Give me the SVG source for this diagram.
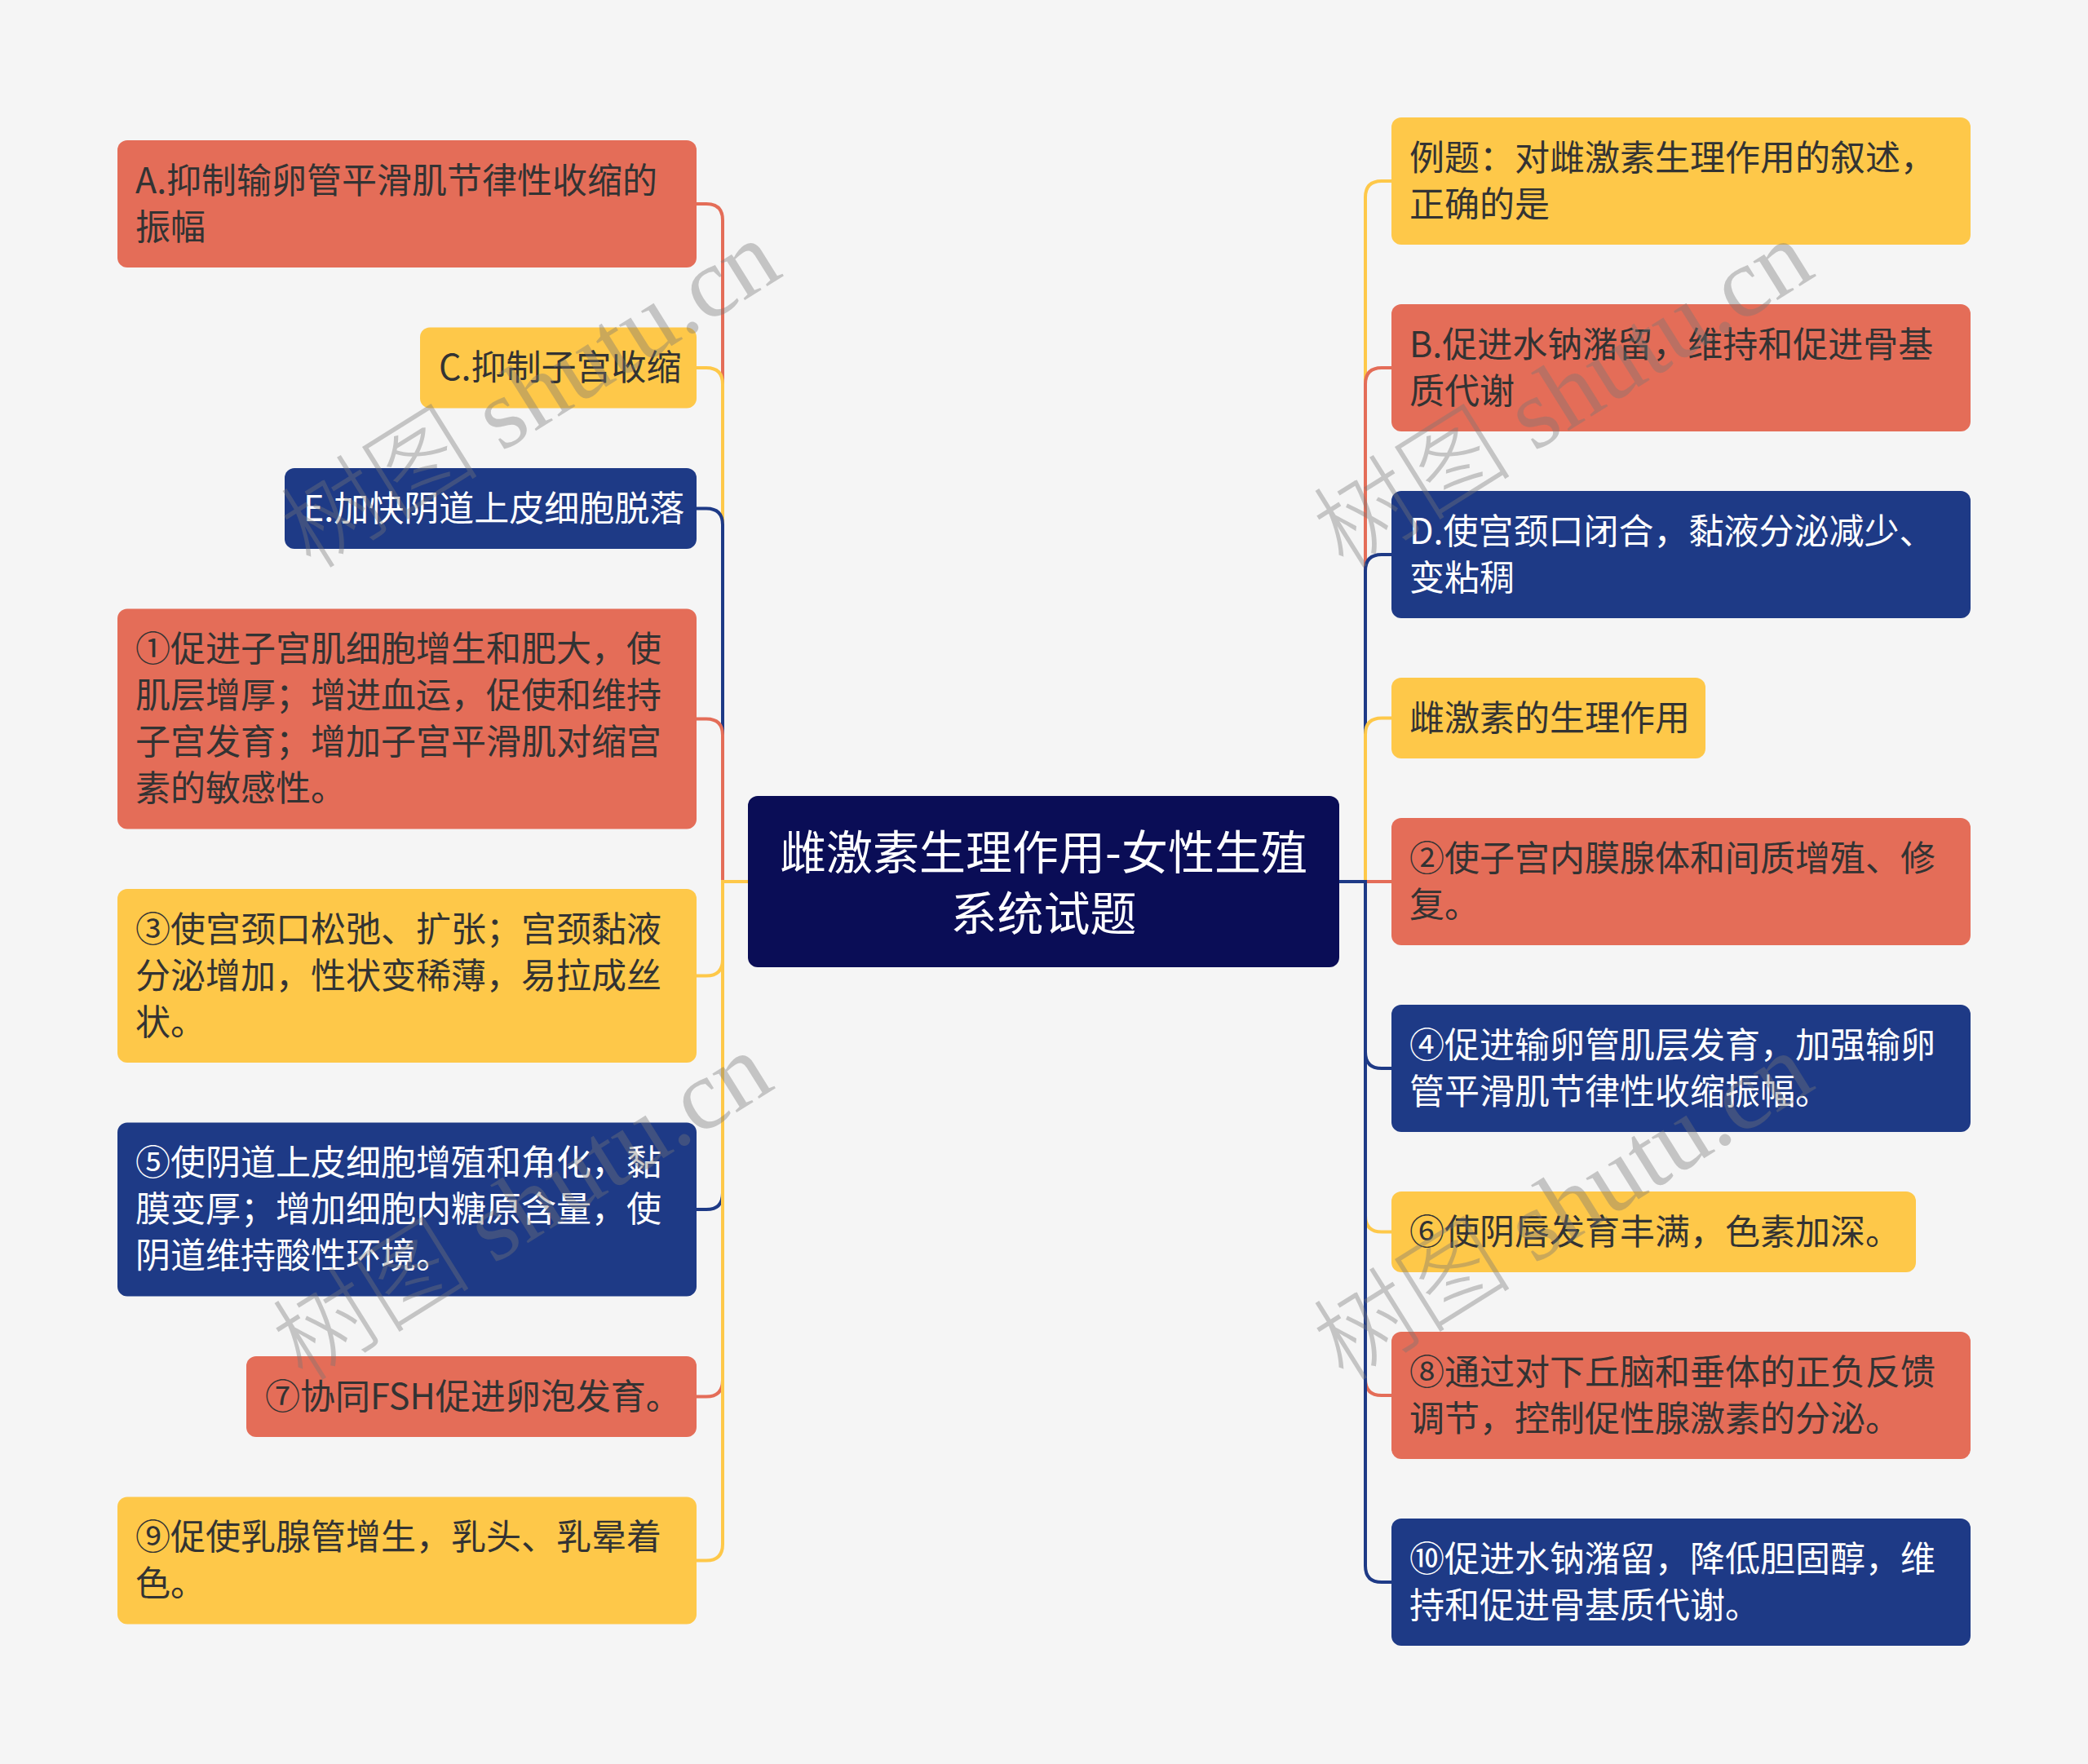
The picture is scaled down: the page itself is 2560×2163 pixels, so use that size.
<svg xmlns="http://www.w3.org/2000/svg" width="2560" height="2163" viewBox="0 0 2560 2163">
<style>
.bg{fill:#F5F5F5}
.red{fill:#E46D58}
.yel{fill:#FEC849}
.blu{fill:#1E3A86}
.ctr{fill:#0A0D56}
.t{font-family:"Noto Sans CJK SC","Noto Sans",sans-serif;font-size:43px}
.dk{fill:#333333}
.wt{fill:#FFFFFF}
.ct{font-family:"Noto Sans CJK SC","Noto Sans",sans-serif;font-size:57px;fill:#FFFFFF;text-anchor:middle}
.c{fill:none;stroke-width:4}
.cr{stroke:#E46D58}
.cy{stroke:#FEC849}
.cb{stroke:#1E3A86}
.wm{font-family:"Liberation Serif","Noto Sans CJK SC",serif;font-size:122px;font-weight:300;fill:#777777;opacity:0.38}
</style>
<rect class="bg" x="0" y="0" width="2560" height="2163"/>
<g id="connectors">
<path class="c cr" d="M917,1081 H886 V270 Q886,250 866,250 H854"/>
<path class="c cy" d="M917,1081 H886 V471 Q886,451 866,451 H854"/>
<path class="c cb" d="M917,1081 H886 V643.5 Q886,623.5 866,623.5 H854"/>
<path class="c cr" d="M917,1081 H886 V901.5 Q886,881.5 866,881.5 H854"/>
<path class="c cy" d="M917,1081 H886 V1176.5 Q886,1196.5 866,1196.5 H854"/>
<path class="c cb" d="M917,1081 H886 V1463 Q886,1483 866,1483 H854"/>
<path class="c cr" d="M917,1081 H886 V1692.5 Q886,1712.5 866,1712.5 H854"/>
<path class="c cy" d="M917,1081 H886 V1893.5 Q886,1913.5 866,1913.5 H854"/>
<path class="c cy" d="M1642,1081 H1674 V242 Q1674,222 1694,222 H1706"/>
<path class="c cr" d="M1642,1081 H1674 V471 Q1674,451 1694,451 H1706"/>
<path class="c cb" d="M1642,1081 H1674 V700 Q1674,680 1694,680 H1706"/>
<path class="c cy" d="M1642,1081 H1674 V900.5 Q1674,880.5 1694,880.5 H1706"/>
<path class="c cr" d="M1642,1081 H1706"/>
<path class="c cb" d="M1642,1081 H1674 V1290 Q1674,1310 1694,1310 H1706"/>
<path class="c cy" d="M1642,1081 H1674 V1490.5 Q1674,1510.5 1694,1510.5 H1706"/>
<path class="c cr" d="M1642,1081 H1674 V1691 Q1674,1711 1694,1711 H1706"/>
<path class="c cb" d="M1642,1081 H1674 V1920 Q1674,1940 1694,1940 H1706"/>
</g>
<g id="center">
<rect class="ctr" x="917" y="976" width="725" height="210" rx="12"/>
<text class="ct" x="1279.5" y="1066">雌激素生理作用-女性生殖</text>
<text class="ct" x="1279.5" y="1141">系统试题</text>
</g>
<g id="nodeA">
<rect class="red" x="144" y="172" width="710" height="156" rx="12"/>
<text class="t dk" x="166" y="236.5">A.抑制输卵管平滑肌节律性收缩的</text>
<text class="t dk" x="166" y="293.5">振幅</text>
</g>
<g id="nodeC">
<rect class="yel" x="515" y="401.5" width="339" height="99" rx="12"/>
<text class="t dk" x="538" y="466">C.抑制子宫收缩</text>
</g>
<g id="nodeE">
<rect class="blu" x="349" y="574" width="505" height="99" rx="12"/>
<text class="t wt" x="372" y="638.5">E.加快阴道上皮细胞脱落</text>
</g>
<g id="node1">
<rect class="red" x="144" y="746.5" width="710" height="270" rx="12"/>
<text class="t dk" x="166" y="811">①促进子宫肌细胞增生和肥大，使</text>
<text class="t dk" x="166" y="868">肌层增厚；增进血运，促使和维持</text>
<text class="t dk" x="166" y="925">子宫发育；增加子宫平滑肌对缩宫</text>
<text class="t dk" x="166" y="982">素的敏感性。</text>
</g>
<g id="node3">
<rect class="yel" x="144" y="1090" width="710" height="213" rx="12"/>
<text class="t dk" x="166" y="1154.5">③使宫颈口松弛、扩张；宫颈黏液</text>
<text class="t dk" x="166" y="1211.5">分泌增加，性状变稀薄，易拉成丝</text>
<text class="t dk" x="166" y="1268.5">状。</text>
</g>
<g id="node5">
<rect class="blu" x="144" y="1376.5" width="710" height="213" rx="12"/>
<text class="t wt" x="166" y="1441">⑤使阴道上皮细胞增殖和角化，黏</text>
<text class="t wt" x="166" y="1498">膜变厚；增加细胞内糖原含量，使</text>
<text class="t wt" x="166" y="1555">阴道维持酸性环境。</text>
</g>
<g id="node7">
<rect class="red" x="302" y="1663" width="552" height="99" rx="12"/>
<text class="t dk" x="325" y="1727.5">⑦协同FSH促进卵泡发育。</text>
</g>
<g id="node9">
<rect class="yel" x="144" y="1835.5" width="710" height="156" rx="12"/>
<text class="t dk" x="166" y="1900">⑨促使乳腺管增生，乳头、乳晕着</text>
<text class="t dk" x="166" y="1957">色。</text>
</g>
<g id="nodeQ">
<rect class="yel" x="1706" y="144" width="710" height="156" rx="12"/>
<text class="t dk" x="1728" y="208.5">例题：对雌激素生理作用的叙述，</text>
<text class="t dk" x="1728" y="265.5">正确的是</text>
</g>
<g id="nodeB">
<rect class="red" x="1706" y="373" width="710" height="156" rx="12"/>
<text class="t dk" x="1728" y="437.5">B.促进水钠潴留，维持和促进骨基</text>
<text class="t dk" x="1728" y="494.5">质代谢</text>
</g>
<g id="nodeD">
<rect class="blu" x="1706" y="602" width="710" height="156" rx="12"/>
<text class="t wt" x="1728" y="666.5">D.使宫颈口闭合，黏液分泌减少、</text>
<text class="t wt" x="1728" y="723.5">变粘稠</text>
</g>
<g id="nodeF">
<rect class="yel" x="1706" y="831" width="385" height="99" rx="12"/>
<text class="t dk" x="1728" y="895.5">雌激素的生理作用</text>
</g>
<g id="node2">
<rect class="red" x="1706" y="1003" width="710" height="156" rx="12"/>
<text class="t dk" x="1728" y="1067.5">②使子宫内膜腺体和间质增殖、修</text>
<text class="t dk" x="1728" y="1124.5">复。</text>
</g>
<g id="node4">
<rect class="blu" x="1706" y="1232" width="710" height="156" rx="12"/>
<text class="t wt" x="1728" y="1296.5">④促进输卵管肌层发育，加强输卵</text>
<text class="t wt" x="1728" y="1353.5">管平滑肌节律性收缩振幅。</text>
</g>
<g id="node6">
<rect class="yel" x="1706" y="1461" width="643" height="99" rx="12"/>
<text class="t dk" x="1728" y="1525.5">⑥使阴唇发育丰满，色素加深。</text>
</g>
<g id="node8">
<rect class="red" x="1706" y="1633" width="710" height="156" rx="12"/>
<text class="t dk" x="1728" y="1697.5">⑧通过对下丘脑和垂体的正负反馈</text>
<text class="t dk" x="1728" y="1754.5">调节，控制促性腺激素的分泌。</text>
</g>
<g id="node10">
<rect class="blu" x="1706" y="1862" width="710" height="156" rx="12"/>
<text class="t wt" x="1728" y="1926.5">⑩促进水钠潴留，降低胆固醇，维</text>
<text class="t wt" x="1728" y="1983.5">持和促进骨基质代谢。</text>
</g>
<g id="watermarks">
<text class="wm" transform="translate(382,700) rotate(-32)">树图 shutu.cn</text>
<text class="wm" transform="translate(1648,700) rotate(-32)">树图 shutu.cn</text>
<text class="wm" transform="translate(372,1696) rotate(-32)">树图 shutu.cn</text>
<text class="wm" transform="translate(1648,1696) rotate(-32)">树图 shutu.cn</text>
</g>
</svg>
